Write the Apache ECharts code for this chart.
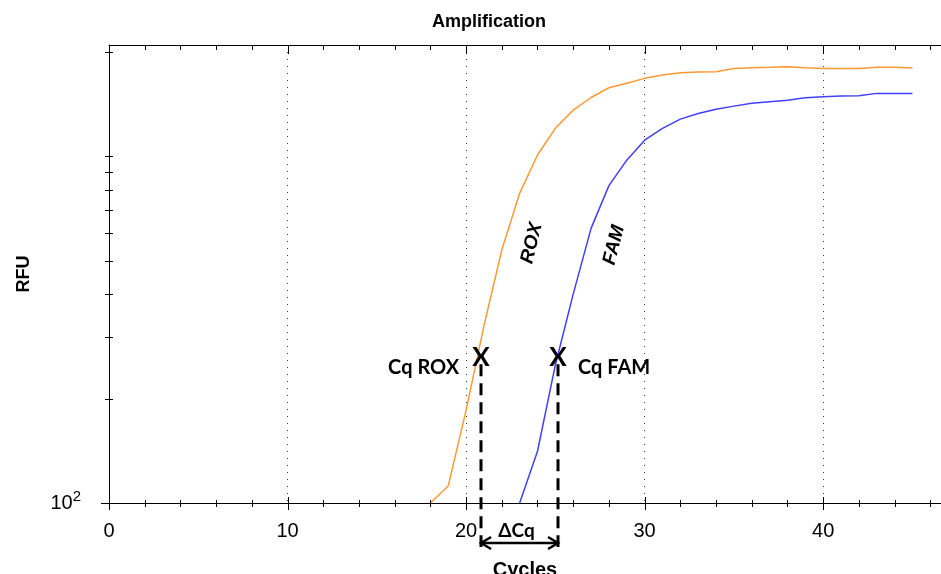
<!DOCTYPE html>
<html>
<head>
<meta charset="utf-8">
<title>Amplification</title>
<script src="https://cdn.jsdelivr.net/npm/echarts@6/dist/echarts.min.js"></script>
<style>
  html, body { margin: 0; padding: 0; background: #fff; }
  #chart { width: 941px; height: 574px; }
</style>
</head>
<body>
<div id="chart"></div>
<script>
// ROX curve (orange)
const roxCycles = [18, 19, 20, 21, 22, 23, 24, 25, 26, 27, 28, 29, 30, 31, 32, 33, 34, 35, 36, 37, 38, 39, 40, 41, 42, 43, 44, 45];
const roxRfu = [100, 112, 185, 324, 536, 781, 1007, 1202, 1357, 1475, 1574, 1622, 1675, 1712, 1739, 1747, 1750, 1789, 1797, 1802, 1809, 1797, 1789, 1789, 1789, 1802, 1802, 1795];

// FAM curve (blue)
const famCycles = [23, 24, 25, 26, 27, 28, 29, 30, 31, 32, 33, 34, 35, 36, 37, 38, 39, 40, 41, 42, 43, 44, 45];
const famRfu = [100, 141, 250, 400, 619, 822, 973, 1111, 1202, 1278, 1326, 1365, 1393, 1419, 1434, 1449, 1472, 1482, 1489, 1493, 1516, 1516, 1516];

// axis ticks
const xTicks = [0, 2, 4, 6, 8, 10, 12, 14, 16, 18, 20, 22, 24, 26, 28, 30, 32, 34, 36, 38, 40, 42, 44, 46];
const yTicks = [100, 200, 300, 400, 500, 600, 700, 800, 900, 1000, 2000];

// Cq annotations
const cqNames = ['Cq ROX', 'Cq FAM'];
const cqCycles = [20.84, 25.15];
const cqThreshold = 263;

// rotated curve names
const curveNames = ['ROX', 'FAM'];
const curveLabelCycles = [23.68, 28.29];
const curveLabelRfu = [561, 554];

const X_MIN = 0, X_MAX = 46.6;
const Y_MIN = 100, Y_MAX = 2090;

const chart = echarts.init(document.getElementById('chart'));

const black = { stroke: '#000', lineWidth: 1 };

// ticks on the bottom and top border
function renderXTick(params, api) {
  const v = api.value(0);
  const b = api.coord([v, Y_MIN]);
  const t = api.coord([v, Y_MAX]);
  const x = Math.round(b[0]) + 0.5;
  const major = v % 10 === 0;
  return {
    type: 'group',
    children: [
      { type: 'line', shape: { x1: x, y1: b[1] - (major ? 6 : 3), x2: x, y2: b[1] + (major ? 7 : 4) }, style: black },
      { type: 'line', shape: { x1: x, y1: t[1], x2: x, y2: t[1] + (major ? 9 : 5) }, style: black }
    ]
  };
}

// ticks on the left axis
function renderYTick(params, api) {
  const v = api.value(1);
  const p = api.coord([X_MIN, v]);
  const y = Math.round(p[1]) + 0.5;
  return {
    type: 'line',
    shape: { x1: p[0] - (v === Y_MIN ? 8 : 4), y1: y, x2: p[0] + 4, y2: y },
    style: black
  };
}

// X marker, Cq text and dashed drop line
function renderCq(params, api) {
  const i = params.dataIndex;
  const p = api.coord([api.value(0), api.value(1)]);
  const base = api.coord([api.value(0), Y_MIN]);
  const x = Math.round(p[0]);
  return {
    type: 'group',
    children: [
      {
        type: 'line',
        shape: { x1: x, y1: p[1] + 7, x2: x, y2: base[1] + 44 },
        style: { stroke: '#000', lineWidth: 3, lineDash: [12, 7] }
      },
      {
        type: 'text', x: p[0], y: p[1],
        style: { text: 'X', font: 'bold 26px Lato', fill: '#000', align: 'center', verticalAlign: 'middle' }
      },
      {
        type: 'text', x: i === 0 ? p[0] - 22 : p[0] + 20, y: p[1] + 10,
        style: { text: cqNames[i], font: 'bold 20px Lato', fill: '#000', align: i === 0 ? 'right' : 'left', verticalAlign: 'middle' }
      }
    ]
  };
}

// double arrow and delta label under the axis
function renderDelta(params, api) {
  const a = api.coord([api.value(0), Y_MIN]);
  const b = api.coord([api.value(2), Y_MIN]);
  const y = a[1] + 40;
  const st = { stroke: '#000', lineWidth: 2.5, fill: null };
  return {
    type: 'group',
    children: [
      { type: 'line', shape: { x1: a[0], y1: y, x2: b[0], y2: y }, style: st },
      { type: 'polyline', shape: { points: [[a[0] + 10, y - 6], [a[0], y], [a[0] + 10, y + 6]] }, style: st },
      { type: 'polyline', shape: { points: [[b[0] - 10, y - 6], [b[0], y], [b[0] - 10, y + 6]] }, style: st },
      {
        type: 'text', x: (a[0] + b[0]) / 2 - 3, y: a[1] + 28,
        style: { text: 'ΔCq', font: 'bold 19px Lato', fill: '#000', align: 'center', verticalAlign: 'middle' }
      }
    ]
  };
}

function renderCurveName(params, api) {
  const p = api.coord([api.value(0), api.value(1)]);
  return {
    type: 'text', x: p[0], y: p[1], rotation: 76 * Math.PI / 180,
    style: {
      text: curveNames[params.dataIndex], font: 'italic bold 19px "Liberation Sans"',
      fill: '#000', align: 'center', verticalAlign: 'middle'
    }
  };
}

const option = {
  animation: false,
  backgroundColor: '#fff',
  textStyle: { fontFamily: '"Liberation Sans", Arial, sans-serif' },
  title: {
    text: 'Amplification',
    left: 427,
    top: 8,
    textStyle: { fontSize: 18, fontWeight: 'bold', color: '#000' }
  },
  grid: { left: 109, right: 0, top: 45, bottom: 71, containLabel: false, outerBoundsMode: 'none' },
  xAxis: [
    {
      type: 'value',
      position: 'bottom',
      min: X_MIN,
      max: X_MAX,
      interval: 10,
      name: 'Cycles',
      nameLocation: 'middle',
      nameGap: 57,
      nameTextStyle: { fontSize: 20, fontWeight: 'bold', color: '#000' },
      axisLine: { show: true, lineStyle: { color: '#000', width: 1 } },
      axisTick: { show: false },
      axisLabel: { fontSize: 20, color: '#000', margin: 18, showMaxLabel: false },
      splitLine: { show: true, lineStyle: { color: '#333', width: 1, type: [1, 6] } }
    },
    {
      type: 'value',
      position: 'top',
      min: X_MIN,
      max: X_MAX,
      interval: 10,
      axisLine: { show: true, lineStyle: { color: '#000', width: 1 } },
      axisTick: { show: false },
      axisLabel: { show: false },
      splitLine: { show: false }
    }
  ],
  yAxis: {
    type: 'log',
    logBase: 10,
    min: Y_MIN,
    max: Y_MAX,
    name: 'RFU',
    nameLocation: 'middle',
    nameGap: 76,
    nameRotate: 90,
    nameTextStyle: { fontSize: 18, fontWeight: 'bold', color: '#000' },
    axisLine: { show: true, lineStyle: { color: '#000', width: 1 } },
    axisTick: { show: false },
    splitLine: { show: false },
    axisLabel: {
      margin: 28,
      color: '#000',
      fontSize: 20,
      showMaxLabel: false,
      formatter: function (v) {
        return Math.abs(v - Y_MIN) < 1e-6 ? '10{sup|2}' : '';
      },
      rich: {
        sup: { fontSize: 15, color: '#000', verticalAlign: 'top', padding: [0, 0, 12, 0] }
      }
    }
  },
  series: [
    {
      name: 'ROX',
      type: 'line',
      data: roxCycles.map((c, i) => [c, roxRfu[i]]),
      showSymbol: false,
      lineStyle: { color: '#FF9933', width: 1.5 },
      itemStyle: { color: '#FF9933' },
      z: 3
    },
    {
      name: 'FAM',
      type: 'line',
      data: famCycles.map((c, i) => [c, famRfu[i]]),
      showSymbol: false,
      lineStyle: { color: '#4040FF', width: 1.5 },
      itemStyle: { color: '#4040FF' },
      z: 3
    },
    {
      type: 'custom',
      silent: true,
      clip: false,
      renderItem: renderXTick,
      data: xTicks.map(v => [v, Y_MIN]),
      z: 5
    },
    {
      type: 'custom',
      silent: true,
      clip: false,
      renderItem: renderYTick,
      data: yTicks.map(v => [X_MIN, v]),
      z: 5
    },
    {
      type: 'custom',
      silent: true,
      clip: false,
      renderItem: renderCq,
      data: cqCycles.map(c => [c, cqThreshold]),
      z: 6
    },
    {
      type: 'custom',
      silent: true,
      clip: false,
      renderItem: renderDelta,
      encode: { x: 0, y: 1 },
      data: [[cqCycles[0], Y_MIN, cqCycles[1]]],
      z: 6
    },
    {
      type: 'custom',
      silent: true,
      clip: false,
      renderItem: renderCurveName,
      data: curveLabelCycles.map((c, i) => [c, curveLabelRfu[i]]),
      z: 6
    }
  ]
};

chart.setOption(option);
</script>
</body>
</html>
